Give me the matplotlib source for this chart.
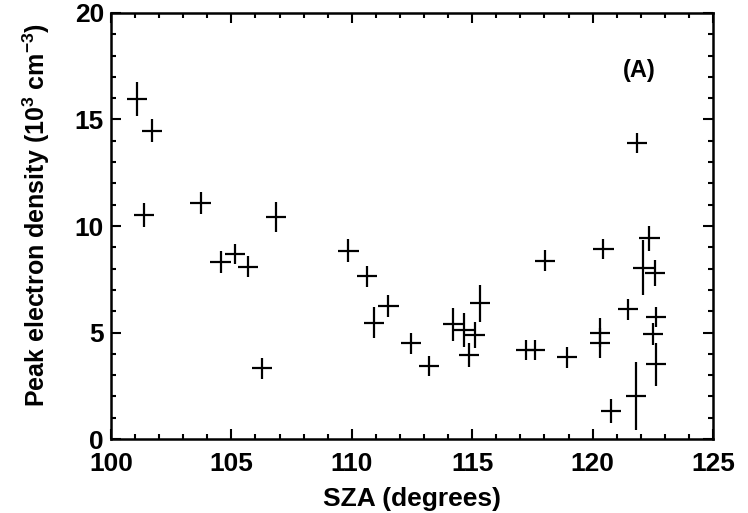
import numpy as np
import matplotlib
matplotlib.use('Agg')
import matplotlib.pyplot as plt
from matplotlib.ticker import MultipleLocator

plt.rcParams['font.family'] = 'Liberation Sans'
plt.rcParams['font.weight'] = 'bold'
plt.rcParams['mathtext.fontset'] = 'custom'
plt.rcParams['mathtext.rm'] = 'Liberation Sans:bold'
plt.rcParams['mathtext.bf'] = 'Liberation Sans:bold'
plt.rcParams['mathtext.default'] = 'bf'

# dados
sza = [101.09, 101.69, 101.37, 103.72, 106.85, 104.55, 105.15, 105.70, 106.27,
       109.86, 110.62, 111.52, 110.92, 112.45, 113.21, 115.32, 114.19, 114.66,
       115.12, 114.88, 117.22, 117.61, 118.02, 118.95, 120.45, 120.31, 120.31,
       120.75, 121.80, 121.48, 121.86, 122.36, 122.11, 122.59, 122.63, 122.50,
       122.63]
ne = [15.95, 14.47, 10.50, 11.09, 10.41, 8.31, 8.69, 8.09, 3.32,
      8.84, 7.65, 6.24, 5.46, 4.49, 3.43, 6.37, 5.38, 5.12,
      4.88, 3.94, 4.18, 4.18, 8.37, 3.83, 8.92, 5.00, 4.52,
      1.31, 2.02, 6.09, 13.88, 9.42, 8.05, 7.81, 5.74, 4.93,
      3.51]
ne_err = [0.80, 0.55, 0.56, 0.52, 0.70, 0.52, 0.46, 0.50, 0.49,
          0.53, 0.49, 0.50, 0.73, 0.50, 0.49, 0.88, 0.76, 0.80,
          0.60, 0.58, 0.47, 0.47, 0.49, 0.50, 0.47, 0.68, 0.70,
          0.58, 1.58, 0.49, 0.47, 0.59, 1.29, 0.61, 0.46, 0.50,
          1.00]
sza_err = [0.42] * len(sza)

fig = plt.figure(figsize=(7.48, 5.13), dpi=100)
ax = fig.add_axes([0.1484, 0.1442, 0.8048, 0.8305])

ax.errorbar(sza, ne, xerr=sza_err, yerr=ne_err, fmt='none',
            ecolor='black', elinewidth=1.6, capsize=0)

ax.set_xlim(100, 125)
ax.set_ylim(0, 20)
ax.xaxis.set_major_locator(MultipleLocator(5))
ax.xaxis.set_minor_locator(MultipleLocator(1))
ax.yaxis.set_major_locator(MultipleLocator(5))
ax.yaxis.set_minor_locator(MultipleLocator(1))
ax.tick_params(which='both', direction='in', top=True, right=True,
               width=1.5, labelsize=19)
ax.tick_params(axis='x', pad=9.5)
ax.tick_params(axis='y', pad=5)
ax.tick_params(which='major', length=7)
ax.tick_params(which='minor', length=3.5)
for s in ax.spines.values():
    s.set_linewidth(1.8)

ax.set_xlabel('SZA (degrees)', fontsize=19, fontweight='bold', labelpad=8)
ax.set_ylabel('Peak electron density (10$^{3}$ cm$^{-3}$)', fontsize=18,
              fontweight='bold')
ax.yaxis.set_label_coords(-0.098, 0.525)
ax.text(121.95, 17.3, '(A)', fontsize=17, fontweight='bold',
        ha='center', va='center')

fig.savefig('out.png', dpi=100)
